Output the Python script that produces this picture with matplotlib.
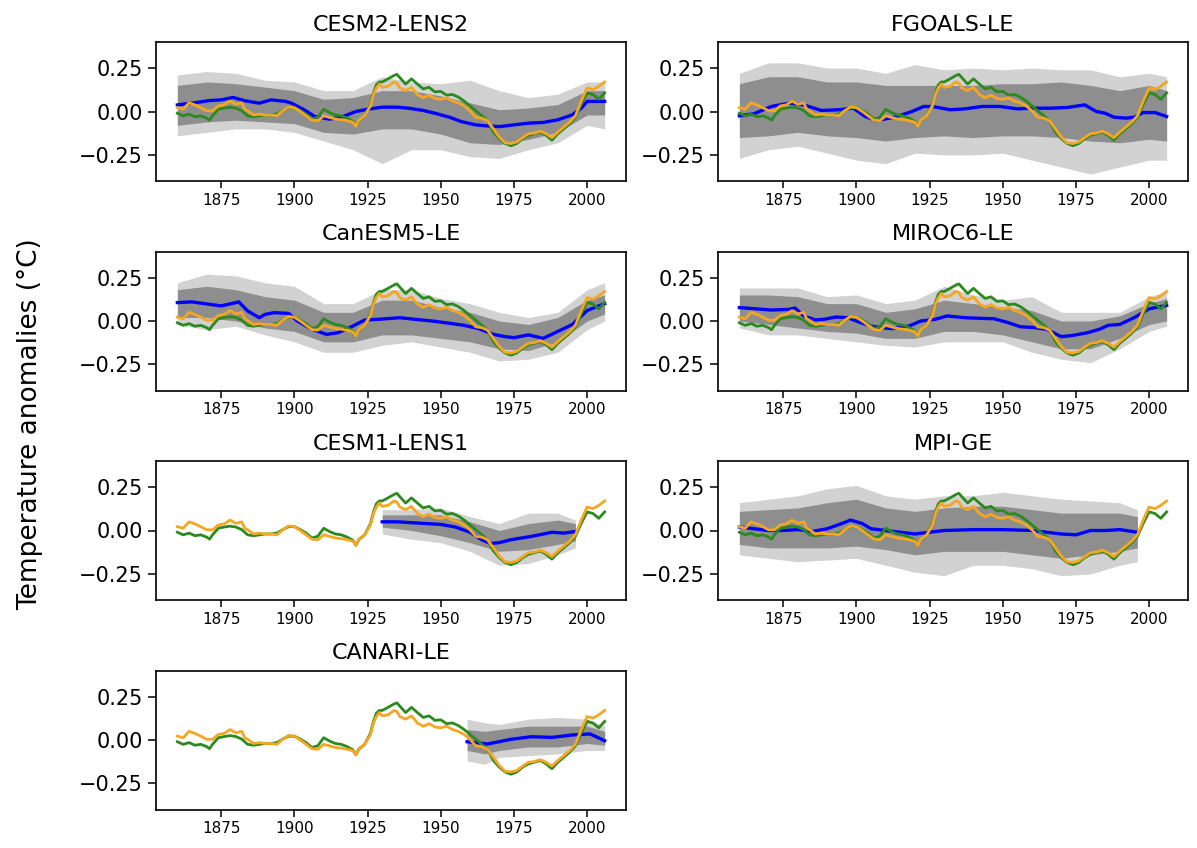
import matplotlib
matplotlib.use("Agg")
import matplotlib.pyplot as plt

# observed series (same in every panel)
green_years = [1860, 1862, 1864, 1866, 1868, 1870, 1871, 1872, 1874, 1876, 1878, 1880,
               1882, 1884, 1886, 1888, 1890, 1892, 1894, 1896, 1898, 1900, 1902, 1904,
               1906, 1908, 1910, 1912, 1914, 1916, 1918, 1920, 1921, 1922, 1924, 1926,
               1927, 1928, 1929, 1930, 1932, 1934, 1935, 1936, 1938, 1940, 1942, 1944,
               1946, 1948, 1950, 1952, 1954, 1956, 1958, 1960, 1962, 1964, 1966, 1968,
               1970, 1972, 1974, 1976, 1978, 1980, 1982, 1984, 1986, 1988, 1990, 1992,
               1994, 1996, 1998, 2000, 2002, 2004, 2006]
green_vals = [-0.01, -0.025, -0.015, -0.03, -0.025, -0.038, -0.05, -0.025, 0.013, 0.02,
              0.025, 0.02, 0.005, -0.025, -0.03, -0.025, -0.02, -0.02, -0.015, 0.005,
              0.022, 0.022, 0.005, -0.015, -0.043, -0.033, 0.013, -0.006, -0.02, -0.025,
              -0.038, -0.057, -0.085, -0.053, -0.025, 0.04, 0.107, 0.154, 0.17, 0.17,
              0.188, 0.207, 0.214, 0.195, 0.158, 0.188, 0.158, 0.13, 0.139, 0.113, 0.116,
              0.094, 0.098, 0.083, 0.06, 0.032, 0.004, -0.024, -0.053, -0.118, -0.156,
              -0.184, -0.197, -0.184, -0.156, -0.137, -0.128, -0.118, -0.137, -0.165,
              -0.128, -0.1, -0.071, -0.034, 0.041, 0.107, 0.098, 0.07, 0.107]

orange_years = [1860, 1862, 1864, 1866, 1868, 1870, 1872, 1874, 1876, 1878, 1880, 1882,
                1883, 1884, 1886, 1888, 1890, 1892, 1894, 1896, 1898, 1900, 1902, 1904,
                1906, 1908, 1910, 1912, 1914, 1916, 1918, 1920, 1921, 1922, 1924, 1926,
                1927, 1928, 1929, 1930, 1932, 1934, 1935, 1936, 1938, 1940, 1942, 1944,
                1946, 1948, 1950, 1952, 1954, 1956, 1958, 1960, 1962, 1964, 1966, 1968,
                1970, 1972, 1974, 1976, 1978, 1980, 1982, 1984, 1986, 1988, 1990, 1992,
                1994, 1996, 1998, 2000, 2002, 2004, 2006]
orange_vals = [0.022, 0.013, 0.05, 0.038, 0.022, 0.004, 0.004, 0.032, 0.038, 0.06, 0.041,
               0.05, 0.013, 0.004, -0.02, -0.015, -0.02, -0.02, -0.025, 0.004, 0.026,
               0.022, 0.0, -0.025, -0.05, -0.053, -0.025, -0.034, -0.043, -0.047, -0.053,
               -0.062, -0.086, -0.05, -0.025, 0.032, 0.098, 0.135, 0.158, 0.139, 0.145,
               0.17, 0.164, 0.135, 0.12, 0.139, 0.098, 0.079, 0.094, 0.075, 0.07, 0.079,
               0.06, 0.05, 0.032, 0.004, -0.034, -0.038, -0.053, -0.1, -0.147, -0.18,
               -0.184, -0.175, -0.15, -0.128, -0.124, -0.113, -0.128, -0.15, -0.118,
               -0.09, -0.062, -0.025, 0.06, 0.135, 0.126, 0.145, 0.17]

# model names
models = ["CESM2-LENS2", "FGOALS-LE", "CanESM5-LE", "MIROC6-LE",
          "CESM1-LENS1", "MPI-GE", "CANARI-LE"]

# ensemble means
mean_years = {
    "CESM2-LENS2": [1860, 1865, 1871, 1875, 1879, 1883, 1888, 1892, 1897, 1899, 1903, 1907,
                    1912, 1916, 1921, 1925, 1930, 1935, 1939, 1944, 1948, 1953, 1957, 1962,
                    1966, 1970, 1975, 1980, 1985, 1990, 1995, 1998, 2000, 2003, 2006],
    "FGOALS-LE": [1860, 1865, 1871, 1877, 1882, 1888, 1894, 1899, 1903, 1907, 1913, 1919,
                  1923, 1926, 1932, 1937, 1943, 1949, 1955, 1960, 1966, 1972, 1978, 1982,
                  1985, 1988, 1992, 1995, 1998, 2002, 2006],
    "CanESM5-LE": [1860, 1865, 1871, 1875, 1879, 1881, 1884, 1888, 1890, 1893, 1898, 1901,
                   1906, 1911, 1915, 1920, 1924, 1929, 1936, 1941, 1947, 1953, 1958, 1963,
                   1968, 1972, 1975, 1980, 1985, 1990, 1995, 2000, 2006],
    "MIROC6-LE": [1860, 1865, 1871, 1877, 1879, 1882, 1886, 1889, 1893, 1897, 1902, 1906,
                  1912, 1918, 1922, 1927, 1931, 1937, 1943, 1947, 1952, 1956, 1961, 1965,
                  1970, 1974, 1979, 1983, 1986, 1990, 1995, 2000, 2006],
    "CESM1-LENS1": [1930, 1935, 1940, 1945, 1950, 1955, 1960, 1964, 1967, 1970, 1974,
                    1981, 1988, 1992, 1996],
    "MPI-GE": [1860, 1865, 1870, 1875, 1880, 1885, 1890, 1895, 1898, 1902, 1905, 1910,
               1915, 1920, 1925, 1930, 1940, 1950, 1960, 1965, 1970, 1975, 1980, 1985,
               1990, 1996],
    "CANARI-LE": [1959, 1966, 1974, 1981, 1988, 1995, 2001, 2006],
}
mean_vals = {
    "CESM2-LENS2": [0.038, 0.048, 0.063, 0.067, 0.081, 0.062, 0.048, 0.067, 0.058, 0.048,
                    0.013, -0.029, -0.044, -0.033, 0.0, 0.013, 0.025, 0.025, 0.019, 0.006,
                    -0.01, -0.033, -0.058, -0.077, -0.083, -0.087, -0.077, -0.067, -0.063,
                    -0.048, -0.019, 0.019, 0.058, 0.058, 0.058],
    "FGOALS-LE": [-0.025, -0.013, 0.029, 0.048, 0.038, 0.006, 0.01, 0.019, -0.029, -0.052,
                  -0.033, 0.0, 0.029, 0.029, 0.01, 0.015, 0.029, 0.029, 0.015, 0.019, 0.019,
                  0.023, 0.038, 0.0, -0.01, -0.033, -0.038, -0.033, -0.006, -0.006, -0.029],
    "CanESM5-LE": [0.106, 0.11, 0.096, 0.087, 0.102, 0.11, 0.058, 0.019, 0.038, 0.048,
                   0.044, 0.0, -0.048, -0.077, -0.067, -0.029, 0.006, 0.01, 0.019, 0.01, 0.0,
                   -0.013, -0.025, -0.044, -0.077, -0.09, -0.096, -0.08, -0.1, -0.06, -0.02,
                   0.06, 0.1],
    "MIROC6-LE": [0.077, 0.071, 0.063, 0.067, 0.075, 0.029, 0.006, 0.01, 0.023, 0.019,
                  -0.013, -0.033, -0.044, -0.029, 0.0, 0.01, 0.029, 0.019, 0.015, 0.013,
                  -0.01, -0.033, -0.038, -0.048, -0.09, -0.083, -0.067, -0.048, -0.025,
                  -0.02, 0.02, 0.07, 0.09],
    "CESM1-LENS1": [0.05, 0.05, 0.045, 0.04, 0.035, 0.02, -0.01, -0.053, -0.075, -0.07,
                    -0.053, -0.034, -0.01, -0.015, -0.006],
    "MPI-GE": [0.02, 0.01, 0.0, 0.0, 0.005, -0.005, 0.01, 0.04, 0.06, 0.04, 0.01, 0.0,
               -0.01, -0.02, -0.01, 0.0, 0.005, 0.005, 0.0, -0.01, -0.02, -0.025, 0.0, 0.0,
               0.005, -0.01],
    "CANARI-LE": [-0.01, -0.023, 0.004, 0.019, 0.015, 0.029, 0.035, -0.004],
}

# ensemble spread: outer/inner envelopes of the member lines
spread_years = {
    "CESM2-LENS2": [1860, 1870, 1880, 1890, 1900, 1910, 1920, 1930, 1940, 1950, 1960,
                    1970, 1980, 1990, 2000, 2006],
    "FGOALS-LE": [1860, 1870, 1880, 1890, 1900, 1910, 1920, 1930, 1940, 1950, 1960,
                  1970, 1980, 1990, 2000, 2006],
    "CanESM5-LE": [1860, 1870, 1880, 1890, 1900, 1910, 1920, 1930, 1940, 1950, 1960,
                   1970, 1980, 1990, 2000, 2006],
    "MIROC6-LE": [1860, 1870, 1880, 1890, 1900, 1910, 1920, 1930, 1940, 1950, 1960,
                  1970, 1980, 1990, 2000, 2006],
    "CESM1-LENS1": [1930, 1940, 1950, 1960, 1970, 1980, 1990, 1996],
    "MPI-GE": [1860, 1870, 1880, 1890, 1900, 1910, 1920, 1930, 1940, 1950, 1960, 1970,
               1980, 1990, 1996],
    "CANARI-LE": [1959, 1965, 1970, 1980, 1990, 2000, 2006],
}
outer_hi = {
    "CESM2-LENS2": [0.21, 0.23, 0.22, 0.18, 0.17, 0.12, 0.12, 0.20, 0.17, 0.16, 0.18, 0.12, 0.08, 0.10, 0.17, 0.17],
    "FGOALS-LE": [0.22, 0.28, 0.28, 0.25, 0.25, 0.22, 0.27, 0.24, 0.25, 0.24, 0.25, 0.24, 0.24, 0.20, 0.22, 0.20],
    "CanESM5-LE": [0.22, 0.27, 0.26, 0.22, 0.20, 0.10, 0.10, 0.18, 0.18, 0.13, 0.10, 0.05, 0.02, 0.05, 0.18, 0.22],
    "MIROC6-LE": [0.19, 0.19, 0.19, 0.14, 0.15, 0.10, 0.12, 0.20, 0.15, 0.12, 0.14, 0.05, 0.05, 0.05, 0.14, 0.17],
    "CESM1-LENS1": [0.12, 0.12, 0.13, 0.08, 0.04, 0.10, 0.10, 0.06],
    "MPI-GE": [0.16, 0.18, 0.20, 0.24, 0.26, 0.20, 0.18, 0.20, 0.20, 0.22, 0.20, 0.18, 0.17, 0.16, 0.12],
    "CANARI-LE": [0.12, 0.10, 0.09, 0.12, 0.13, 0.12, 0.08],
}
inner_hi = {
    "CESM2-LENS2": [0.15, 0.17, 0.16, 0.14, 0.12, 0.07, 0.08, 0.12, 0.12, 0.09, 0.05, 0.01, 0.02, 0.04, 0.12, 0.12],
    "FGOALS-LE": [0.16, 0.20, 0.20, 0.17, 0.17, 0.15, 0.15, 0.15, 0.15, 0.16, 0.16, 0.17, 0.15, 0.12, 0.15, 0.12],
    "CanESM5-LE": [0.18, 0.20, 0.18, 0.14, 0.12, 0.05, 0.05, 0.12, 0.12, 0.08, 0.05, 0.00, -0.02, 0.02, 0.12, 0.15],
    "MIROC6-LE": [0.15, 0.15, 0.14, 0.10, 0.10, 0.05, 0.07, 0.12, 0.10, 0.08, 0.06, 0.0, 0.0, 0.03, 0.10, 0.13],
    "CESM1-LENS1": [0.09, 0.09, 0.09, 0.05, 0.0, 0.04, 0.06, 0.04],
    "MPI-GE": [0.11, 0.12, 0.13, 0.16, 0.18, 0.13, 0.11, 0.13, 0.14, 0.14, 0.12, 0.10, 0.10, 0.10, 0.08],
    "CANARI-LE": [0.06, 0.05, 0.06, 0.08, 0.08, 0.08, 0.05],
}
inner_lo = {
    "CESM2-LENS2": [-0.08, -0.06, -0.05, -0.06, -0.07, -0.12, -0.13, -0.10, -0.10, -0.13, -0.18, -0.19, -0.16, -0.12, -0.02, -0.02],
    "FGOALS-LE": [-0.15, -0.14, -0.12, -0.14, -0.15, -0.17, -0.15, -0.14, -0.15, -0.14, -0.14, -0.15, -0.17, -0.18, -0.16, -0.17],
    "CanESM5-LE": [0.02, 0.02, 0.0, -0.04, -0.06, -0.12, -0.12, -0.08, -0.08, -0.10, -0.12, -0.16, -0.17, -0.12, 0.0, 0.04],
    "MIROC6-LE": [0.0, -0.02, -0.04, -0.06, -0.07, -0.10, -0.10, -0.06, -0.06, -0.08, -0.12, -0.16, -0.16, -0.10, -0.02, 0.0],
    "CESM1-LENS1": [0.02, 0.0, -0.03, -0.07, -0.12, -0.11, -0.08, -0.06],
    "MPI-GE": [-0.08, -0.10, -0.10, -0.10, -0.09, -0.11, -0.14, -0.12, -0.12, -0.12, -0.14, -0.16, -0.14, -0.12, -0.10],
    "CANARI-LE": [-0.06, -0.08, -0.06, -0.04, -0.04, -0.02, -0.03],
}
outer_lo = {
    "CESM2-LENS2": [-0.14, -0.12, -0.10, -0.10, -0.12, -0.17, -0.22, -0.30, -0.22, -0.22, -0.26, -0.27, -0.22, -0.18, -0.08, -0.10],
    "FGOALS-LE": [-0.27, -0.22, -0.20, -0.24, -0.28, -0.30, -0.24, -0.25, -0.25, -0.24, -0.28, -0.32, -0.36, -0.32, -0.28, -0.28],
    "CanESM5-LE": [-0.02, -0.05, -0.03, -0.08, -0.12, -0.18, -0.18, -0.14, -0.12, -0.15, -0.18, -0.23, -0.22, -0.18, -0.05, 0.0],
    "MIROC6-LE": [-0.04, -0.08, -0.08, -0.10, -0.12, -0.14, -0.15, -0.12, -0.12, -0.12, -0.18, -0.22, -0.24, -0.16, -0.06, -0.03],
    "CESM1-LENS1": [-0.02, -0.05, -0.07, -0.12, -0.20, -0.19, -0.14, -0.10],
    "MPI-GE": [-0.14, -0.16, -0.18, -0.17, -0.16, -0.20, -0.24, -0.26, -0.20, -0.20, -0.22, -0.26, -0.25, -0.20, -0.18],
    "CANARI-LE": [-0.12, -0.14, -0.10, -0.09, -0.08, -0.06, -0.06],
}

W, H = 1197, 848
fig = plt.figure(figsize=(W / 100, H / 100), dpi=100)

col_left = [156, 718]
row_top = [42, 251.5, 461, 670.5]
ax_w, ax_h = 470, 139

for i, name in enumerate(models):
    r, c = divmod(i, 2)
    ax = fig.add_axes([col_left[c] / W, 1 - (row_top[r] + ax_h) / H, ax_w / W, ax_h / H])

    yrs = spread_years[name]
    ax.fill_between(yrs, outer_lo[name], outer_hi[name], color="#d2d2d2", lw=0)
    ax.fill_between(yrs, inner_lo[name], inner_hi[name], color="#8e8e8e", lw=0)

    ax.plot(mean_years[name], mean_vals[name], color="blue", lw=2.4, zorder=3)
    ax.plot(green_years, green_vals, color="#2b8a1e", lw=2.0, zorder=4)
    ax.plot(orange_years, orange_vals, color="#f5a623", lw=2.0, zorder=5)

    ax.set_ylim(-0.4, 0.4)
    ax.set_xticks([1875, 1900, 1925, 1950, 1975, 2000])
    ax.set_yticks([-0.25, 0.0, 0.25])
    ax.tick_params(axis="x", labelsize=11, length=5, width=1.1)
    ax.tick_params(axis="y", labelsize=15, length=6, width=1.1)
    for s in ax.spines.values():
        s.set_linewidth(1.2)
    ax.set_title(name, fontsize=16, pad=8)

fig.text(30 / W, 0.5, "Temperature anomalies (°C)", rotation=90,
         ha="center", va="center", fontsize=19)

fig.savefig("out.png", dpi=100)
